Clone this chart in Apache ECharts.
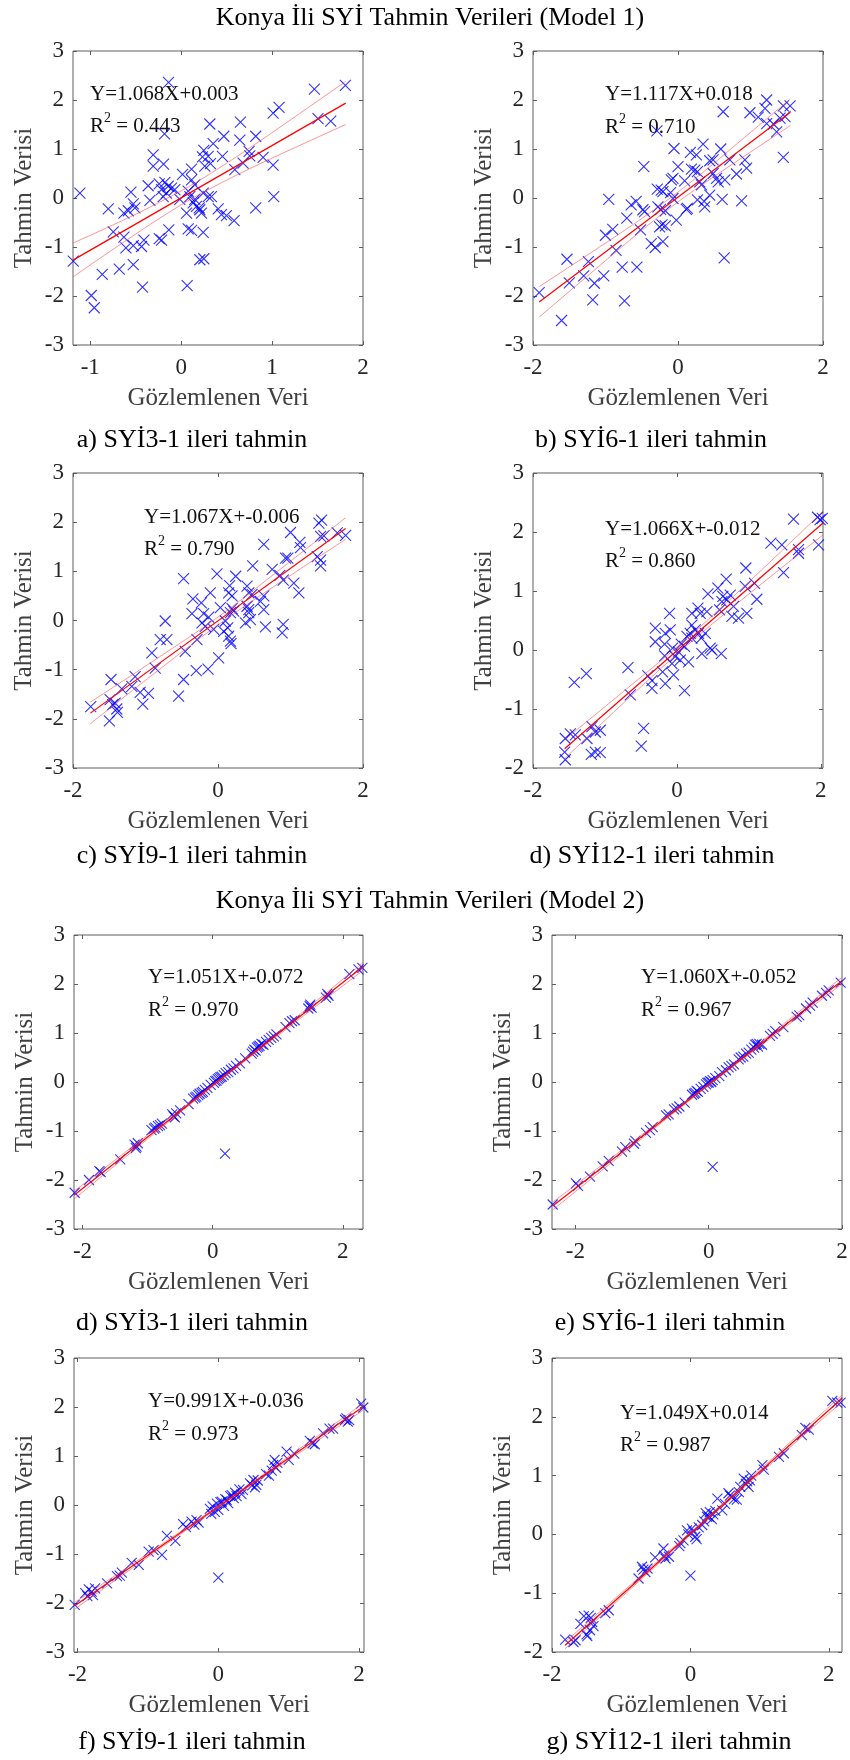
<!DOCTYPE html>
<html><head><meta charset="utf-8">
<script src="https://cdn.jsdelivr.net/npm/echarts@6/dist/echarts.min.js"></script>
<style>html,body{margin:0;padding:0;background:#fff}#c{width:850px;height:1760px}</style>
</head><body><div id="c"></div>
<script>
// ---------- Titles / captions ----------
const titleM1 = 'Konya İli SYİ Tahmin Verileri (Model 1)';
const titleM2 = 'Konya İli SYİ Tahmin Verileri (Model 2)';
const captions = ['a) SYİ3-1 ileri tahmin','b) SYİ6-1 ileri tahmin','c) SYİ9-1 ileri tahmin','d) SYİ12-1 ileri tahmin',
  'd) SYİ3-1 ileri tahmin','e) SYİ6-1 ileri tahmin','f) SYİ9-1 ileri tahmin','g) SYİ12-1 ileri tahmin'];
const equations = ['Y=1.068X+0.003','Y=1.117X+0.018','Y=1.067X+-0.006','Y=1.066X+-0.012',
  'Y=1.051X+-0.072','Y=1.060X+-0.052','Y=0.991X+-0.036','Y=1.049X+0.014'];
const r2Values = ['0.443','0.710','0.790','0.860','0.970','0.967','0.973','0.987'];
const xName = 'Gözlemlenen Veri';
const yName = 'Tahmin Verisi';

// ---------- Axis ranges and tick labels ----------
const xRanges = [[-1.19,2],[-2,2],[-2,2],[-2,2.03],[-2.13,2.31],[-2.35,2.0],[-2.05,2.07],[-2,2.19]];
const yRanges = [[-3,3],[-3,3],[-3,3],[-2,3],[-3,3],[-3,3],[-3,3],[-2,3]];
const xTicks = [[-1,0,1,2],[-2,0,2],[-2,0,2],[-2,0,2],[-2,0,2],[-2,0,2],[-2,0,2],[-2,0,2]];
const yTicks6 = [-3,-2,-1,0,1,2,3];
const yTicks5 = [-2,-1,0,1,2,3];

// ---------- Panel a ----------
const pointsA = [[-0.139,2.36],[1.806,2.30],[1.465,2.22],[1.077,1.85],[1.011,1.73],[1.505,1.62],[1.645,1.57],[0.315,1.51],[0.652,1.55],[-0.183,1.31],[0.469,1.26],[0.82,1.26],[0.352,1.11],[0.645,1.18],[-0.308,0.88],[-0.308,0.65],[-0.194,0.69],[0.249,0.97],[0.234,0.84],[0.297,0.85],[0.454,0.85],[0.747,0.95],[0.755,0.86],[0.901,0.83],[0.681,0.71],[0.26,0.65],[0.322,0.70],[0.59,0.58],[1.011,0.67],[0.015,0.48],[0.114,0.59],[0.114,0.37],[0.15,0.27],[-0.363,0.25],[-0.242,0.29],[-0.179,0.32],[-0.143,0.24],[-0.106,0.20],[-0.07,0.17],[-0.216,0.17],[-0.161,0.10],[-0.198,0.03],[-1.114,0.10],[-0.553,0.12],[-0.344,-0.05],[-0.015,-0.03],[0.077,0.14],[0.095,0.03],[0.15,-0.03],[0.242,0.10],[0.297,0.03],[0.333,0.03],[1.018,0.03],[-0.802,-0.22],[0.82,-0.20],[0.132,-0.10],[0.168,-0.17],[0.205,-0.24],[0.223,-0.31],[0.198,-0.20],[0.407,-0.22],[0.443,-0.34],[0.498,-0.36],[0.582,-0.46],[-0.527,-0.12],[-0.509,-0.20],[-0.582,-0.26],[-0.63,-0.31],[-0.747,-0.69],[-0.63,-0.80],[-0.608,-1.02],[-0.527,-0.97],[-0.436,-0.99],[-0.41,-0.86],[-0.242,-0.83],[-0.216,-0.86],[-0.136,-0.65],[0.077,-0.63],[0.114,-0.66],[0.242,-0.70],[0.205,-1.26],[0.249,-1.24],[-1.187,-1.29],[-0.681,-1.45],[-0.527,-1.36],[-0.868,-1.56],[-0.425,-1.82],[0.066,-1.79],[-0.989,-1.99],[-0.956,-2.24],[0.059,-0.31]];
const fitA = [[-1.19,-1.268],[1.81,1.936]];
const upA = [[-1.19,-0.92],[-0.6,-0.42],[-0.2,-0.05],[0.1,0.25],[0.4,0.59],[0.8,1.08],[1.3,1.72],[1.81,2.38]];
const loA = [[-1.19,-1.61],[-0.6,-0.86],[-0.2,-0.37],[0.1,-0.03],[0.4,0.27],[0.8,0.64],[1.3,1.07],[1.81,1.50]];

// ---------- Panel b ----------
const pointsB = [[1.223,2.00],[1.2,1.83],[1.453,1.88],[1.546,1.88],[1.476,1.66],[0.623,1.76],[0.992,1.74],[1.107,1.65],[1.223,1.52],[1.315,1.51],[1.361,1.35],[1.453,0.83],[-0.291,1.37],[0.346,1.10],[-0.055,1.01],[0.171,0.93],[0.254,0.88],[0.59,1.00],[0.715,0.78],[0.923,0.78],[0.438,0.76],[0.484,0.78],[-0.471,0.64],[0,0.64],[0.185,0.59],[0.231,0.57],[0.268,0.54],[0.807,0.49],[0.946,0.61],[-0.069,0.40],[-0.092,0.37],[0.092,0.35],[0.484,0.50],[0.531,0.40],[0.554,0.33],[0.646,0.37],[0.3,0.33],[0.323,0.27],[-0.231,0.16],[-0.208,0.13],[-0.102,0.11],[-0.069,-0.01],[-0.955,-0.03],[0.129,-0.21],[0.115,-0.23],[0.268,-0.04],[0.36,-0.07],[0.369,-0.18],[0.438,0.06],[0.609,-0.03],[0.877,-0.06],[-0.646,-0.14],[-0.577,-0.07],[-0.484,-0.24],[-0.461,-0.28],[-0.277,-0.18],[-0.24,-0.23],[-0.175,-0.26],[-0.023,-0.45],[-0.706,-0.41],[-0.517,-0.65],[-0.254,-0.59],[-0.221,-0.55],[-0.175,-0.57],[-0.9,-0.64],[-1.001,-0.76],[-0.369,-0.93],[-0.314,-1.01],[-0.208,-0.89],[-0.854,-1.07],[-1.532,-1.25],[-1.236,-1.30],[0.637,-1.22],[-0.77,-1.41],[-0.567,-1.41],[-1.301,-1.59],[-1.024,-1.59],[-1.499,-1.73],[-1.153,-1.74],[-1.915,-1.93],[-1.176,-2.08],[-0.738,-2.10],[-1.606,-2.50],[-0.286,0.18],[1.407,1.63]];
const fitB = [[-1.915,-2.121],[1.55,1.749]];
const upB = [[-1.915,-1.81],[-1.0,-0.92],[-0.55,-0.47],[-0.1,0.01],[0.35,0.53],[0.8,1.09],[1.55,2.02]];
const loB = [[-1.915,-2.43],[-1.0,-1.28],[-0.55,-0.72],[-0.1,-0.19],[0.35,0.29],[0.8,0.74],[1.55,1.48]];

// ---------- Panel c ----------
const pointsC = [[1.429,2.04],[1.392,1.98],[1.0,1.79],[1.645,1.78],[1.76,1.73],[1.415,1.71],[1.461,1.72],[0.631,1.55],[1.129,1.59],[1.138,1.48],[0.931,1.27],[0.963,1.27],[1.369,1.30],[1.415,1.23],[1.415,1.11],[0.479,1.11],[0.747,1.04],[-0.475,0.85],[-0.014,0.95],[0.244,0.90],[0.853,0.92],[0.899,0.82],[1.046,0.76],[1.115,0.56],[0.161,0.71],[0.401,0.70],[0.147,0.56],[-0.106,0.56],[-0.346,0.44],[-0.23,0.36],[0.194,0.50],[0.424,0.56],[0.47,0.53],[0.631,0.50],[0.585,0.39],[0.631,0.22],[-0.359,0.14],[-0.198,0.14],[-0.129,0.07],[0.032,0.26],[0.194,0.24],[0.217,0.19],[0.171,0.16],[0.401,0.29],[0.424,0.16],[0.447,0.02],[0.378,-0.05],[-0.221,-0.05],[-0.175,-0.12],[0.101,-0.01],[0.078,-0.22],[0.134,-0.15],[0.147,-0.32],[0.171,-0.42],[0.18,-0.47],[0.654,-0.13],[0.899,-0.08],[0.885,-0.25],[-0.728,-0.01],[-0.797,-0.39],[-0.705,-0.39],[-0.29,-0.39],[-0.452,-0.63],[-0.912,-0.66],[0.009,-0.76],[-0.866,-0.97],[-0.3,-1.02],[-0.138,-0.99],[-0.475,-1.20],[-1.475,-1.20],[-1.143,-1.14],[-1.189,-1.34],[-1.327,-1.39],[-1.074,-1.46],[-0.959,-1.48],[-0.544,-1.54],[-1.488,-1.61],[-1.452,-1.71],[-1.419,-1.68],[-1.396,-1.80],[-1.387,-1.87],[-1.037,-1.70],[-1.756,-1.75],[-1.498,-2.04],[0.424,0.22],[-0.06,-0.18]];
const fitC = [[-1.76,-1.884],[1.76,1.872]];
const upC = [[-1.76,-1.66],[-0.9,-0.83],[0,0.07],[0.9,1.09],[1.76,2.09]];
const loC = [[-1.76,-2.10],[-0.9,-1.10],[0,-0.09],[0.9,0.82],[1.76,1.65]];

// ---------- Panel d ----------
const pointsD = [[1.62,2.22],[1.954,2.25],[2.02,2.23],[1.99,2.21],[1.306,1.81],[1.458,1.78],[1.968,1.78],[1.69,1.64],[1.481,1.31],[0.958,1.39],[0.685,1.20],[1.079,1.13],[0.949,1.08],[1.111,0.86],[0.569,1.05],[0.431,0.95],[0.639,0.91],[0.741,0.93],[0.625,0.82],[0.694,0.85],[0.787,0.74],[0.856,0.54],[0.972,0.62],[0.764,0.57],[0.593,0.68],[-0.102,0.62],[0.292,0.71],[0.324,0.62],[0.417,0.65],[0.208,0.62],[-0.301,0.37],[-0.093,0.34],[-0.162,0.28],[0.208,0.42],[0.255,0.34],[0.301,0.28],[0.338,0.20],[0.394,0.28],[0.139,0.23],[0.208,0.20],[-0.301,0.14],[-0.171,0.10],[-0.06,0.03],[0.06,0.10],[0.106,0.06],[0.023,-0.03],[-0.023,-0.11],[0.046,-0.17],[0.162,-0.20],[0.463,0.03],[0.486,0],[0.347,-0.06],[0.616,-0.06],[-0.171,-0.10],[-0.199,-0.37],[-0.162,-0.57],[-0.046,-0.42],[-0.069,-0.23],[0.106,-0.69],[-0.681,-0.30],[-0.403,-0.44],[-0.347,-0.52],[-0.347,-0.65],[-0.648,-0.76],[-1.259,-0.40],[-1.426,-0.55],[-0.463,-1.33],[-0.495,-1.63],[-1.551,-1.50],[-1.481,-1.42],[-1.412,-1.44],[-1.181,-1.30],[-1.25,-1.50],[-1.065,-1.36],[-1.134,-1.39],[-1.56,-1.73],[-1.551,-1.86],[-1.19,-1.77],[-1.134,-1.73],[-1.065,-1.74],[1.69,1.70],[0.185,0.28]];
const fitD = [[-1.56,-1.675],[2.03,2.152]];
const upD = [[-1.56,-1.52],[-0.7,-0.66],[0.1,0.155],[0.9,1.04],[2.03,2.35]];
const loD = [[-1.56,-1.84],[-0.7,-0.85],[0.1,0.035],[0.9,0.85],[2.03,1.95]];

// ---------- Panel e (Model 2, SYİ3) ----------
const pointsE = [[-2.12,-2.26],[-1.90,-2.0],[-1.74,-1.82],[-1.72,-1.84],[-1.42,-1.58],[-1.20,-1.28],[-1.18,-1.35],[-1.15,-1.25],[-1.17,-1.32],[-0.94,-0.98],[-0.90,-0.95],[-0.88,-0.93],[-0.84,-0.90],[-0.81,-0.88],[-0.78,-0.85],[-0.62,-0.66],[-0.60,-0.70],[-0.58,-0.72],[-0.56,-0.64],[-0.50,-0.58],[-0.37,-0.45],[-0.30,-0.34],[-0.27,-0.32],[-0.25,-0.30],[-0.22,-0.27],[-0.20,-0.24],[-0.17,-0.22],[-0.15,-0.20],[-0.12,-0.16],[-0.08,-0.12],[-0.03,-0.06],[0.02,-0.02],[0.04,0.02],[0.06,0.03],[0.08,0.06],[0.10,0.08],[0.12,0.10],[0.14,0.11],[0.17,0.14],[0.20,0.18],[0.24,0.20],[0.28,0.25],[0.32,0.28],[0.36,0.33],[0.42,0.38],[0.50,0.48],[0.60,0.58],[0.62,0.62],[0.64,0.66],[0.66,0.64],[0.68,0.70],[0.70,0.72],[0.72,0.74],[0.75,0.78],[0.78,0.76],[0.82,0.82],[0.86,0.86],[0.90,0.90],[0.94,0.93],[0.98,0.97],[1.12,1.12],[1.18,1.20],[1.22,1.24],[1.26,1.26],[1.47,1.50],[1.49,1.55],[1.50,1.58],[1.52,1.52],[1.74,1.72],[1.76,1.80],[1.78,1.76],[2.10,2.20],[2.24,2.30],[2.30,2.33],[0.19,-1.46]];
const fitE = [[-2.125,-2.305],[2.31,2.356]];
const upE = [[-2.125,-2.225],[-1.0,-1.083],[0.1,0.053],[1.2,1.229],[2.31,2.436]];
const loE = [[-2.125,-2.385],[-1.0,-1.163],[0.1,0.013],[1.2,1.149],[2.31,2.276]];

// ---------- Panel f (Model 2, SYİ6) ----------
const pointsF = [[-2.34,-2.50],[-1.99,-2.07],[-1.96,-2.12],[-1.78,-1.93],[-1.59,-1.72],[-1.50,-1.61],[-1.30,-1.42],[-1.25,-1.33],[-1.12,-1.26],[-1.10,-1.20],[-0.94,-1.04],[-0.88,-0.98],[-0.84,-0.92],[-0.64,-0.68],[-0.60,-0.66],[-0.52,-0.56],[-0.48,-0.54],[-0.44,-0.50],[-0.36,-0.42],[-0.25,-0.26],[-0.22,-0.24],[-0.20,-0.22],[-0.18,-0.18],[-0.16,-0.20],[-0.12,-0.14],[-0.08,-0.10],[-0.04,-0.05],[-0.02,-0.02],[0.00,-0.01],[0.02,0.02],[0.04,0.00],[0.06,0.04],[0.10,0.08],[0.16,0.12],[0.20,0.20],[0.26,0.24],[0.30,0.30],[0.34,0.33],[0.38,0.36],[0.45,0.46],[0.48,0.50],[0.52,0.52],[0.56,0.58],[0.60,0.60],[0.64,0.66],[0.68,0.70],[0.70,0.76],[0.72,0.78],[0.74,0.72],[0.76,0.78],[0.80,0.76],[0.92,0.94],[0.96,0.98],[1.00,1.04],[1.12,1.12],[1.32,1.33],[1.36,1.36],[1.46,1.50],[1.52,1.56],[1.56,1.62],[1.70,1.76],[1.76,1.82],[1.80,1.87],[1.98,2.03],[0.06,-1.73]];
const fitF = [[-2.34,-2.532],[2.0,2.068]];
const upF = [[-2.34,-2.452],[-1.1,-1.178],[0.0,-0.032],[1.0,1.048],[2.0,2.138]];
const loF = [[-2.34,-2.612],[-1.1,-1.258],[0.0,-0.072],[1.0,0.968],[2.0,1.998]];

// ---------- Panel g (Model 2, SYİ9) ----------
const pointsG = [[-2.04,-2.04],[-1.89,-1.80],[-1.86,-1.86],[-1.84,-1.72],[-1.80,-1.77],[-1.78,-1.84],[-1.75,-1.70],[-1.58,-1.60],[-1.44,-1.45],[-1.40,-1.44],[-1.37,-1.38],[-1.23,-1.18],[-1.13,-1.22],[-0.99,-0.95],[-0.92,-0.92],[-0.80,-1.02],[-0.73,-0.63],[-0.61,-0.73],[-0.50,-0.39],[-0.46,-0.45],[-0.38,-0.34],[-0.34,-0.40],[-0.31,-0.31],[-0.28,-0.36],[-0.12,-0.08],[-0.10,-0.18],[-0.08,-0.03],[-0.05,-0.14],[-0.02,0.03],[0.00,-0.10],[0.03,0.06],[0.05,0.07],[0.08,-0.02],[0.10,0.12],[0.12,0.10],[0.14,0.04],[0.17,0.18],[0.19,0.20],[0.22,0.14],[0.24,0.25],[0.26,0.18],[0.30,0.32],[0.33,0.22],[0.35,0.31],[0.45,0.44],[0.48,0.40],[0.50,0.51],[0.52,0.36],[0.54,0.41],[0.56,0.50],[0.68,0.63],[0.72,0.60],[0.76,0.70],[0.78,0.82],[0.80,0.92],[0.82,0.76],[0.84,0.86],[0.97,1.09],[1.00,0.92],[1.08,1.05],[1.30,1.31],[1.34,1.26],[1.37,1.24],[1.49,1.46],[1.58,1.56],[1.63,1.56],[1.80,1.74],[1.82,1.77],[1.84,1.70],[1.86,1.73],[2.03,2.07],[2.06,1.99],[0.00,-1.48]];
const fitG = [[-2.04,-2.058],[2.06,2.005]];
const upG = [[-2.04,-1.988],[-1.0,-0.992],[0.05,0.034],[1.0,0.99],[2.06,2.075]];
const loG = [[-2.04,-2.128],[-1.0,-1.062],[0.05,-0.006],[1.0,0.92],[2.06,1.935]];

// ---------- Panel h (Model 2, SYİ12) ----------
const pointsH = [[-1.81,-1.79],[-1.69,-1.83],[-1.66,-1.80],[-1.59,-1.52],[-1.54,-1.39],[-1.49,-1.73],[-1.50,-1.70],[-1.47,-1.38],[-1.42,-1.49],[-1.45,-1.63],[-1.44,-1.42],[-1.40,-1.56],[-1.23,-1.34],[-1.18,-1.29],[-0.75,-0.75],[-0.70,-0.55],[-0.65,-0.64],[-0.68,-0.60],[-0.62,-0.58],[-0.51,-0.39],[-0.39,-0.24],[-0.36,-0.41],[-0.31,-0.38],[-0.38,-0.36],[-0.145,-0.15],[-0.16,-0.20],[-0.10,-0.10],[-0.05,0.07],[-0.03,0.00],[0.02,0.10],[0.04,0.05],[0.07,-0.04],[0.09,-0.08],[0.12,0.12],[0.17,0.16],[0.20,0.22],[0.22,0.36],[0.24,0.30],[0.27,0.30],[0.28,0.38],[0.31,0.26],[0.33,0.34],[0.36,0.40],[0.39,0.61],[0.46,0.41],[0.50,0.52],[0.55,0.70],[0.57,0.66],[0.60,0.64],[0.63,0.60],[0.67,0.59],[0.70,0.72],[0.72,0.81],[0.77,0.95],[0.80,0.86],[0.82,0.90],[0.84,0.81],[0.86,0.92],[0.88,1.00],[1.04,1.18],[1.06,1.10],[1.28,1.32],[1.35,1.38],[1.61,1.69],[1.66,1.81],[1.71,1.78],[2.05,2.27],[2.12,2.24],[2.17,2.24],[0.0,-0.70]];
const fitH = [[-1.81,-1.885],[2.19,2.311]];
const upH = [[-1.81,-1.825],[-0.9,-0.895],[0.2,0.244],[1.2,1.308],[2.19,2.371]];
const loH = [[-1.81,-1.945],[-0.9,-0.965],[0.2,0.204],[1.2,1.238],[2.19,2.251]];

const allPoints = [pointsA,pointsB,pointsC,pointsD,pointsE,pointsF,pointsG,pointsH];
const allFits = [fitA,fitB,fitC,fitD,fitE,fitF,fitG,fitH];
const allUp = [upA,upB,upC,upD,upE,upF,upG,upH];
const allLo = [loA,loB,loC,loD,loE,loF,loG,loH];

// ---------- Layout (pixels) ----------
const boxes = [
  {l:73,t:51,w:290,h:294},{l:533,t:51,w:290,h:294},
  {l:73,t:473,w:290,h:295},{l:533,t:473,w:290,h:295},
  {l:74,t:935,w:289,h:294},{l:552,t:935,w:290,h:294},
  {l:74,t:1358,w:290,h:294},{l:552,t:1358,w:290,h:294}];
const annPos = [[90,96,125],[605,96,126],[144,519,548],[605,531,560],[148,979,1009],[641,979,1009],[148,1403,1433],[620,1415,1444]];
const capPos = [[192,440],[651,440],[192,856],[652,856],[192,1323],[670,1323],[192,1742],[669,1742]];

const FONT = 'Liberation Serif';
const BOX = '#5e5e5e';
const crossPath = 'path://M0,0L10,10M10,0L0,10';

const grid = [], xAxis = [], yAxis = [], series = [], graphic = [];
boxes.forEach((b, i) => {
  grid.push({left:b.l, top:b.t, width:b.w, height:b.h, containLabel:false, outerBoundsMode:'none',
    show:true, borderColor:BOX, borderWidth:1, backgroundColor:'transparent'});
  const yt = yRanges[i][0] === -2 ? yTicks5 : yTicks6;
  const tick = {show:true, inside:true, length:4, lineStyle:{color:BOX, width:1}};
  const line = {show:false, onZero:false};
  xAxis.push({type:'value', gridIndex:i, position:'bottom', min:xRanges[i][0], max:xRanges[i][1],
    axisLine:line, splitLine:{show:false},
    axisTick:Object.assign({customValues:xTicks[i]}, tick),
    axisLabel:{customValues:xTicks[i], color:'#262626', fontFamily:FONT, fontSize:23, margin:11},
    name:xName, nameLocation:'middle', nameGap:41,
    nameTextStyle:{color:'#404040', fontFamily:FONT, fontSize:25}});
  xAxis.push({type:'value', gridIndex:i, position:'top', min:xRanges[i][0], max:xRanges[i][1],
    axisLine:line, splitLine:{show:false},
    axisTick:Object.assign({customValues:xTicks[i]}, tick), axisLabel:{show:false}});
  yAxis.push({type:'value', gridIndex:i, position:'left', min:yRanges[i][0], max:yRanges[i][1],
    axisLine:line, splitLine:{show:false},
    axisTick:Object.assign({customValues:yt}, tick),
    axisLabel:{customValues:yt, color:'#262626', fontFamily:FONT, fontSize:23, margin:9},
    name:yName, nameLocation:'middle', nameGap:36,
    nameTextStyle:{color:'#404040', fontFamily:FONT, fontSize:25}});
  yAxis.push({type:'value', gridIndex:i, position:'right', min:yRanges[i][0], max:yRanges[i][1],
    axisLine:line, splitLine:{show:false},
    axisTick:Object.assign({customValues:yt}, tick), axisLabel:{show:false}});

  const xi = 2*i, yi = 2*i;
  series.push({type:'scatter', xAxisIndex:xi, yAxisIndex:yi, data:allPoints[i],
    symbol:crossPath, symbolSize:i < 4 ? 11 : 10, clip:false,
    itemStyle:{color:'rgba(0,0,0,0)', borderColor:'#0000ff', borderWidth:1.1}, z:2, silent:true});
  series.push({type:'line', xAxisIndex:xi, yAxisIndex:yi, data:allFits[i], showSymbol:false,
    lineStyle:{color:'#ff0000', width:1.2}, z:3, silent:true});
  [allUp[i], allLo[i]].forEach(band => series.push({type:'line', xAxisIndex:xi, yAxisIndex:yi, data:band,
    showSymbol:false, smooth:0.4, lineStyle:{color:'rgba(255,60,60,0.55)', width:1}, z:3, silent:true}));

  const a = annPos[i];
  graphic.push({type:'text', left:a[0], top:a[1]-12, style:{text:equations[i], fill:'#111', font:'21px ' + FONT}});
  graphic.push({type:'text', left:a[0], top:a[2]-14, style:{
    text:'{a|R}{s|2}{a| = ' + r2Values[i] + '}', fill:'#111',
    rich:{a:{fontFamily:FONT, fontSize:21, fill:'#111', verticalAlign:'bottom', lineHeight:26},
          s:{fontFamily:FONT, fontSize:14, fill:'#111', verticalAlign:'top', lineHeight:26}}}});
  graphic.push({type:'text', x:capPos[i][0], y:capPos[i][1], style:{text:captions[i], fill:'#000',
    font:'26px ' + FONT, textAlign:'center', textVerticalAlign:'middle'}});
});
graphic.push({type:'text', x:430, y:18, style:{text:titleM1, fill:'#000', font:'26px ' + FONT, textAlign:'center', textVerticalAlign:'middle'}});
graphic.push({type:'text', x:430, y:901, style:{text:titleM2, fill:'#000', font:'26px ' + FONT, textAlign:'center', textVerticalAlign:'middle'}});

const chart = echarts.init(document.getElementById('c'), null, {renderer:'canvas'});
chart.setOption({animation:false, backgroundColor:'#fff', grid, xAxis, yAxis, series, graphic});
</script></body></html>
